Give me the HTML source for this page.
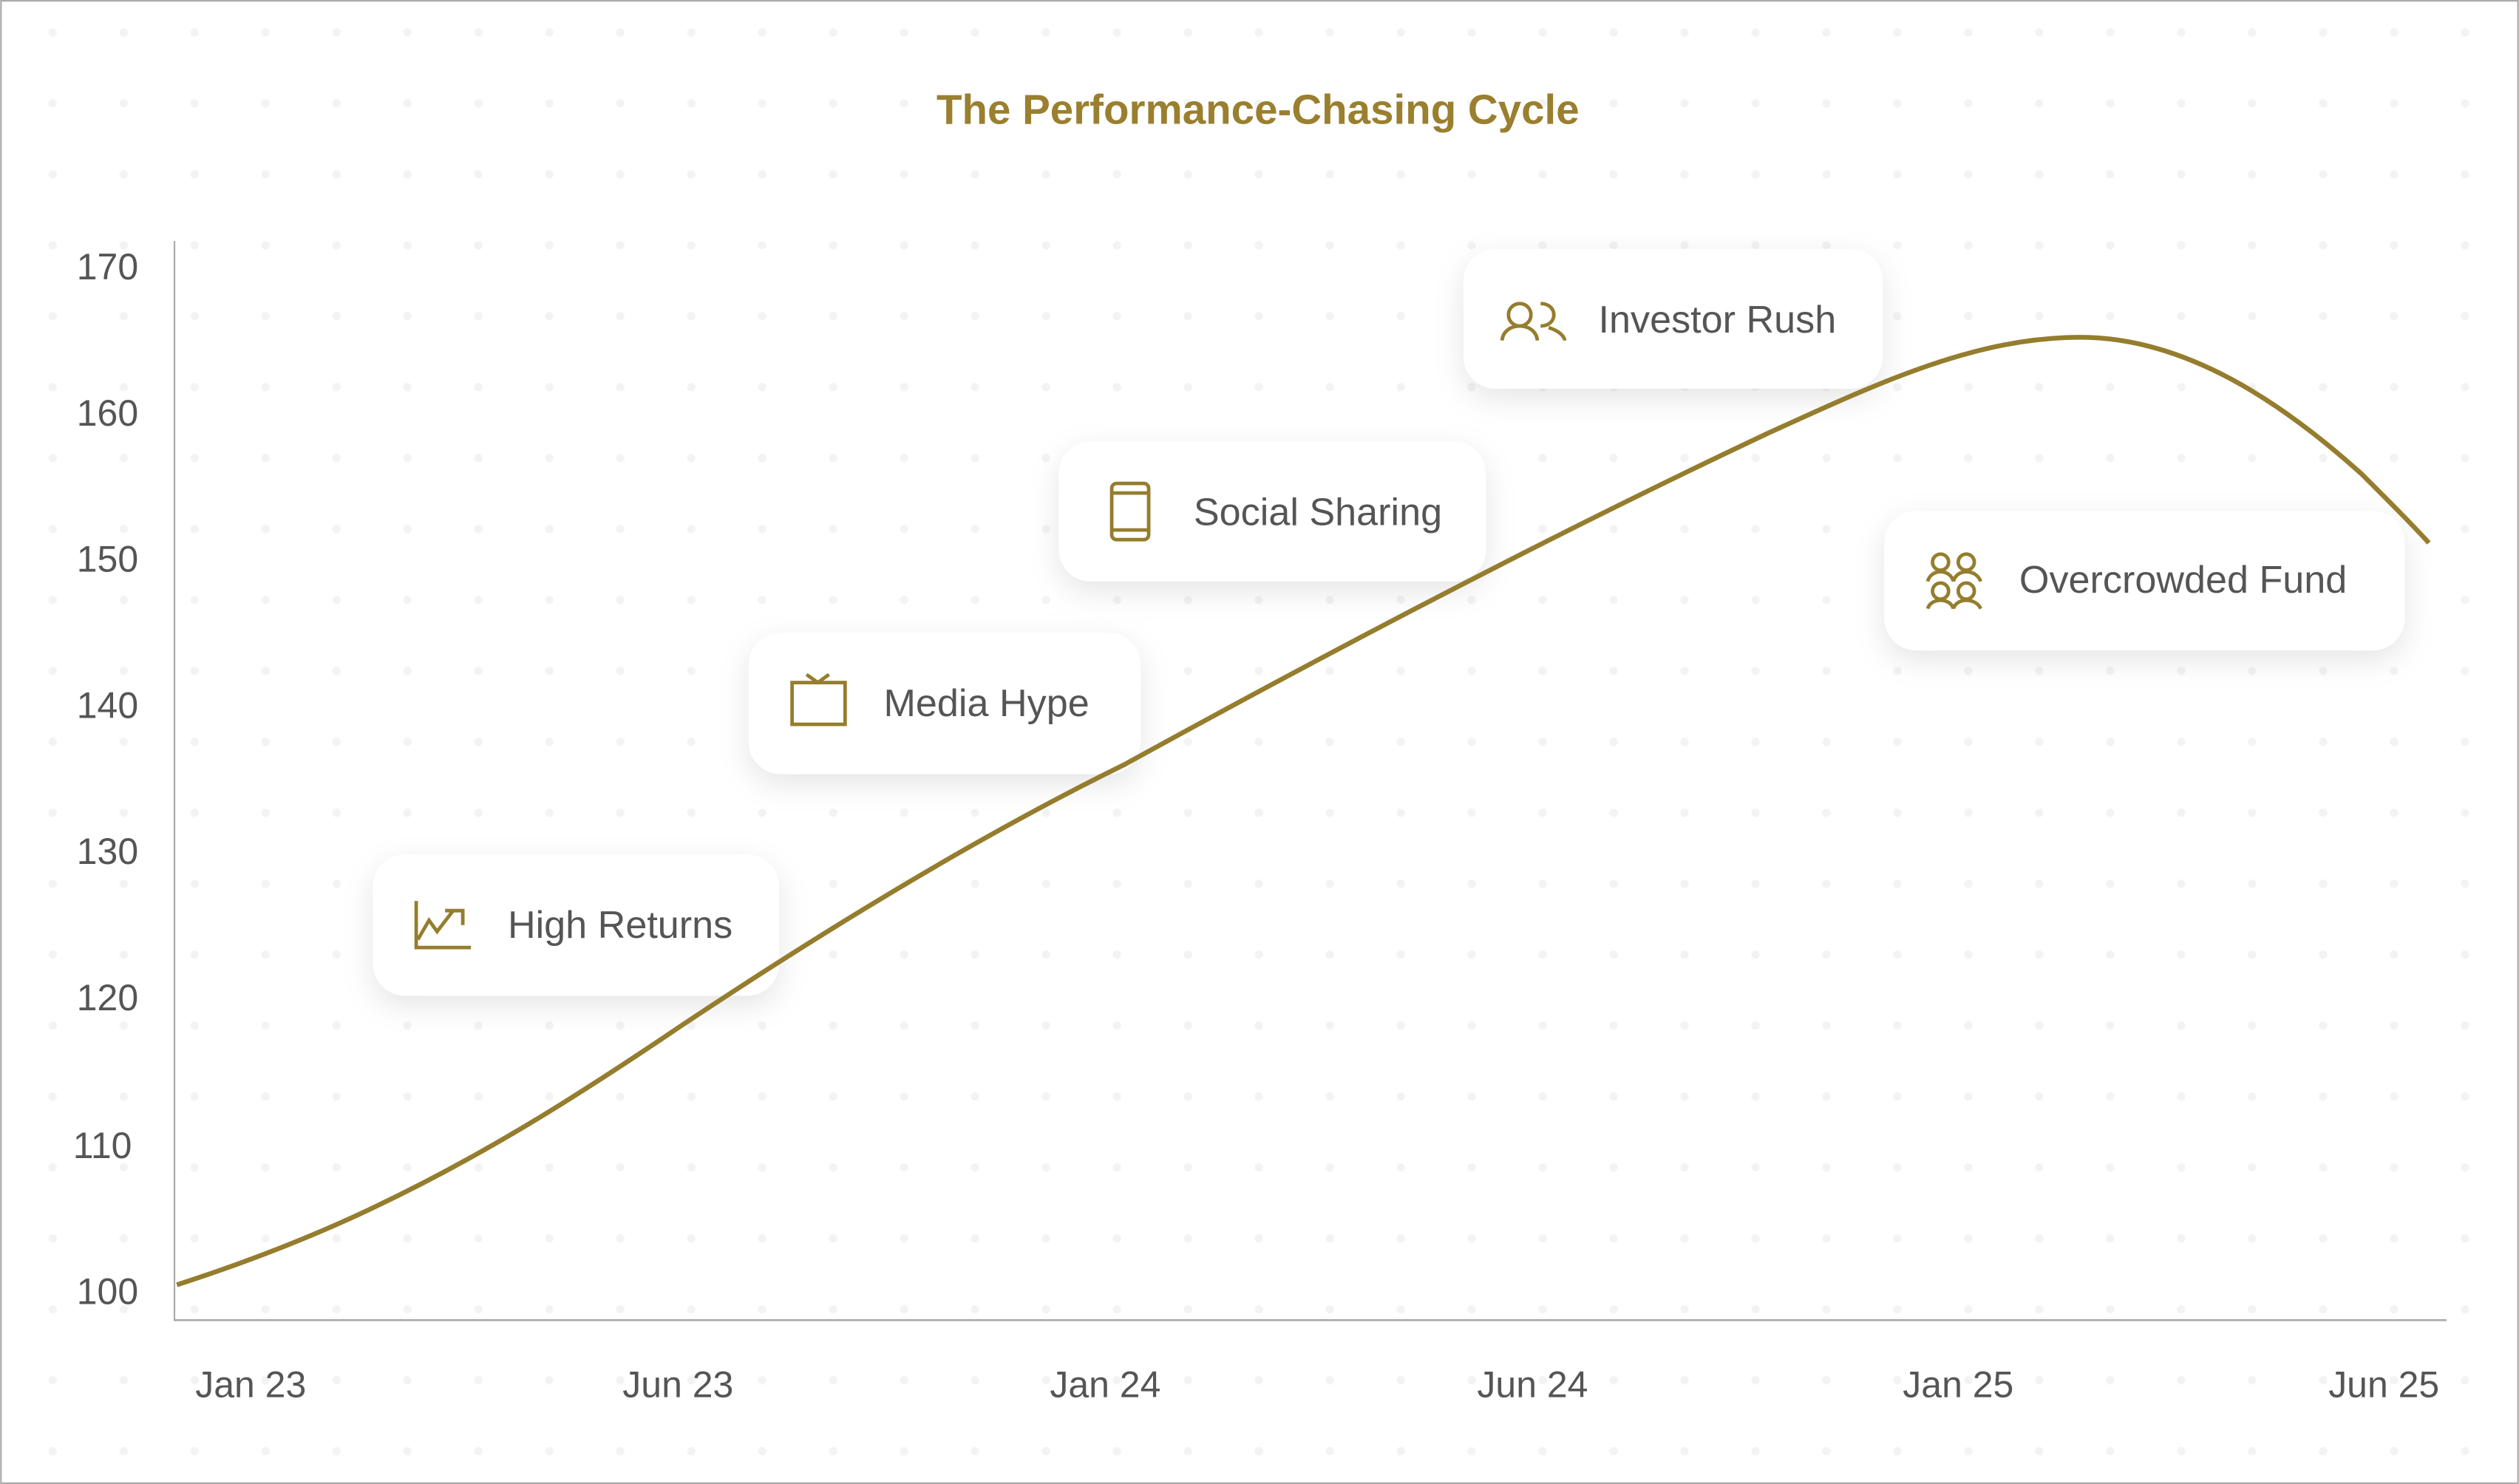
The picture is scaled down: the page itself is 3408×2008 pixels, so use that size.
<!DOCTYPE html>
<html><head><meta charset="utf-8"><style>
html,body{margin:0;padding:0;background:#fff;}
svg{display:block;}
text{font-family:"Liberation Sans",sans-serif;}
</style></head><body>
<svg width="3408" height="2008" viewBox="0 0 1568 924" xmlns="http://www.w3.org/2000/svg">
<defs>
<pattern id="dots" x="0" y="0" width="44.17" height="44.17" patternUnits="userSpaceOnUse" patternTransform="translate(32.7 20.2)">
<circle cx="0" cy="0" r="2.6" fill="#f3f3f3"/>
<circle cx="44.17" cy="0" r="2.6" fill="#f3f3f3"/>
<circle cx="0" cy="44.17" r="2.6" fill="#f3f3f3"/>
<circle cx="44.17" cy="44.17" r="2.6" fill="#f3f3f3"/>
</pattern>
<filter id="sh" x="-30%" y="-40%" width="160%" height="190%">
<feDropShadow dx="0" dy="6" stdDeviation="9" flood-color="#000" flood-opacity="0.10"/>
</filter>
</defs>
<rect x="0" y="0" width="1568" height="924" fill="#fff"/>
<rect x="0" y="0" width="1568" height="924" fill="url(#dots)"/>
<rect x="0.5" y="0.5" width="1567" height="923" fill="none" stroke="#aaa" stroke-width="1"/>
<text x="783" y="77" text-anchor="middle" font-size="26" font-weight="bold" fill="#9a7f2e">The Performance-Chasing Cycle</text>
<line x1="108.5" y1="150" x2="108.5" y2="822" stroke="#aaa" stroke-width="1"/>
<line x1="108" y1="822" x2="1523" y2="822" stroke="#aaa" stroke-width="1.2"/>
<g font-size="23" fill="#555" text-anchor="end">
<text x="86" y="174">170</text><text x="86" y="265">160</text><text x="86" y="356">150</text>
<text x="86" y="447">140</text><text x="86" y="538">130</text><text x="86" y="629">120</text>
<text x="82" y="721">110</text><text x="86" y="812">100</text>
</g>
<g font-size="23" fill="#555" text-anchor="middle">
<text x="156" y="870">Jan 23</text><text x="422" y="870">Jun 23</text><text x="688" y="870">Jan 24</text>
<text x="954" y="870">Jun 24</text><text x="1219" y="870">Jan 25</text><text x="1484" y="870">Jun 25</text>
</g>
<g filter="url(#sh)" fill="#fff">
<rect x="232" y="532" width="253" height="88" rx="20"/>
<rect x="466" y="394" width="244" height="88" rx="20"/>
<rect x="659" y="275" width="266" height="87" rx="20"/>
<rect x="911" y="155" width="261" height="87" rx="20"/>
<rect x="1173" y="318" width="324" height="87" rx="20"/>
</g>
<path d="M110,800 C150,787 190,772 230,753 C300,720 360,682 422,640 C500,588 600,525 700,476 C820,410 960,336 1100,270 C1170,238 1230,210 1295,210 C1360,210 1420,250 1470,295 C1490,315 1500,325 1512,338" fill="none" stroke="#957d2e" stroke-width="3"/>
<g font-size="24" fill="#555">
<text x="316" y="584">High Returns</text>
<text x="550" y="446">Media Hype</text>
<text x="743" y="327">Social Sharing</text>
<text x="995" y="207">Investor Rush</text>
<text x="1257" y="369">Overcrowded Fund</text>
</g>
<g fill="none" stroke="#957d2e" stroke-width="2.2">
<path d="M259,561 V590 H293"/><path d="M260,585 L267,573 L272,580 L282,567 M277,567 H288 V576" />
<rect x="493" y="425" width="33" height="26"/><path d="M502,420 L509,425 L516,420"/>
<rect x="692" y="301" width="23" height="35" rx="3"/><path d="M692,307 H715 M692,330 H715"/>
<circle cx="946" cy="196" r="7"/><path d="M935,212 C936,200 956,200 957,212"/>
<path d="M959,189 C970,189 970,203 959,203 M964,204 C971,206 974,210 974,212"/>
<circle cx="1208" cy="350" r="5"/><circle cx="1224" cy="350" r="5"/>
<circle cx="1208" cy="368" r="5"/><circle cx="1224" cy="368" r="5"/>
<path d="M1200,362 C1202,354 1214,354 1216,362 M1216,362 C1218,354 1230,354 1233,362"/>
<path d="M1200,379 C1202,372 1214,372 1216,379 M1216,379 C1218,372 1230,372 1233,379"/>
</g>
</svg>
</body></html>
